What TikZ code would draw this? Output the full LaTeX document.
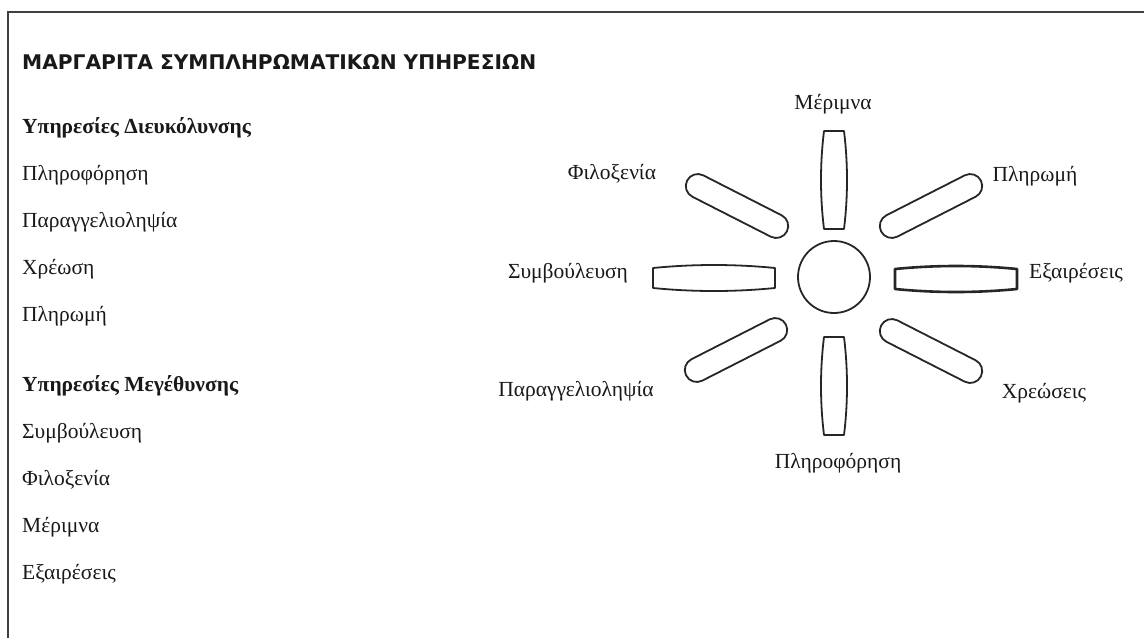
\documentclass[tikz,border=0pt]{standalone}
\usepackage{fontspec}
\setmainfont{Liberation Serif}
\newfontfamily\titlefont{DejaVu Sans}
\usetikzlibrary{positioning}

% straight petal with slightly bulging long sides
\newcommand{\barrelpetal}[3]{%
  \begin{scope}[shift={#1}, rotate=#2]
    \draw[petal] (-#3,-10) .. controls (-#3/3,-14) and (#3/3,-14) .. (#3,-10)
      -- (#3,10) .. controls (#3/3,14) and (-#3/3,14) .. (-#3,10) -- cycle;
  \end{scope}}
% rounded petal
\newcommand{\roundpetal}[2]{%
  \begin{scope}[shift={#1}, rotate=#2]
    \draw[petal, rounded corners=12pt] (-56,-12) rectangle (56,12);
  \end{scope}}

\begin{document}
\begin{tikzpicture}[x=1pt, y=-1pt,
    frameline/.style={draw=black!75, line width=1.6pt},
    petal/.style={draw=black!85, line width=1.8pt, line join=round},
    item/.style={anchor=base west, inner sep=0pt, text=black!90, font=\fontsize{21.5}{26}\selectfont},
    heading/.style={item, font=\fontsize{21.5}{26}\selectfont\bfseries},
    petallabel/.style={anchor=base, inner sep=0pt, text=black!90, font=\fontsize{21.5}{26}\selectfont},
  ]
  \useasboundingbox (0,0) rectangle (1144,638);
  \draw[frameline] (8,638) -- (8,12) -- (1144,12);

  % title
  \node[anchor=base west, inner sep=0pt, text=black!90, font=\titlefont\bfseries\fontsize{20.2}{24}\selectfont] (title) at (22,69)
    {ΜΑΡΓΑΡΙΤΑ ΣΥΜΠΛΗΡΩΜΑΤΙΚΩΝ ΥΠΗΡΕΣΙΩΝ};

  % service lists
  \node[heading] (easeHead) at (22,133) {Υπηρεσίες Διευκόλυνσης};
  \foreach \txt [count=\i] in {Πληροφόρηση, Παραγγελιοληψία, Χρέωση, Πληρωμή}
    \node[item] (ease\i) at (22,133+47*\i) {\txt};
  \node[heading] (growHead) at (22,391) {Υπηρεσίες Μεγέθυνσης};
  \foreach \txt [count=\i] in {Συμβούλευση, Φιλοξενία, Μέριμνα, Εξαιρέσεις}
    \node[item] (grow\i) at (22,391+47*\i) {\txt};

  % flower
  \node[circle, draw=black!85, line width=1.8pt, minimum size=72pt, inner sep=0pt] (centre) at (834,277) {};
  \barrelpetal{(834,180)}{90}{49}
  \barrelpetal{(834,386)}{90}{49}
  \barrelpetal{(714,278)}{0}{61}
  \begin{scope}[petal/.append style={line width=2.6pt}]
    \barrelpetal{(956,279)}{0}{61}
  \end{scope}
  \roundpetal{(737,206)}{-27}
  \roundpetal{(931,206)}{27}
  \roundpetal{(736,350)}{27}
  \roundpetal{(931,351)}{-27}

  % petal labels
  \node[petallabel] (merimna) at (833,109) {Μέριμνα};
  \node[petallabel] (filoxenia) at (612,179) {Φιλοξενία};
  \node[petallabel] (pliromi) at (1035,181) {Πληρωμή};
  \node[petallabel] (symvoul) at (568,278) {Συμβούλευση};
  \node[petallabel] (exair) at (1076,278) {Εξαιρέσεις};
  \node[petallabel] (paragg) at (576,396) {Παραγγελιοληψία};
  \node[petallabel] (xreos) at (1044,398) {Χρεώσεις};
  \node[petallabel] (pliroforisi) at (838,468) {Πληροφόρηση};
\end{tikzpicture}
\end{document}
